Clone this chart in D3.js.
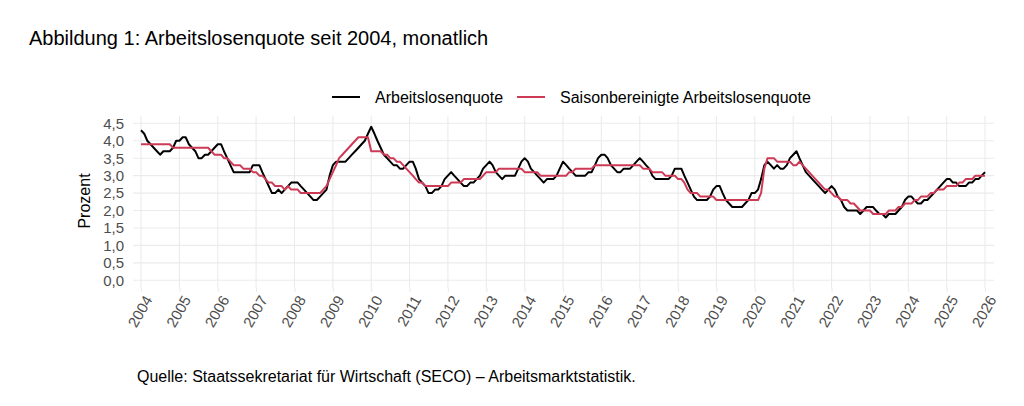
<!DOCTYPE html>
<html>
<head>
<meta charset="utf-8">
<script src="https://cdn.jsdelivr.net/npm/d3@7"></script>
<style>
  html, body { margin: 0; padding: 0; background: #fff; }
  svg { display: block; font-family: "Liberation Sans", Arial, Helvetica, sans-serif; }
</style>
</head>
<body>
<svg id="chart" width="1024" height="406"></svg>
<script>
// ---- Data (monthly, Jan 2004 .. Jan 2026) ----
const startYear = 2004;
const raw2004_2009 = [
  4.3, 4.2, 4.0, 3.9, 3.8, 3.7, 3.6, 3.7, 3.7, 3.7, 3.8, 4.0,
  4.0, 4.1, 4.1, 3.9, 3.8, 3.7, 3.5, 3.5, 3.6, 3.6, 3.7, 3.8,
  3.9, 3.9, 3.7, 3.5, 3.3, 3.1, 3.1, 3.1, 3.1, 3.1, 3.1, 3.3,
  3.3, 3.3, 3.1, 2.9, 2.7, 2.5, 2.5, 2.6, 2.5, 2.6, 2.7, 2.8,
  2.8, 2.8, 2.7, 2.6, 2.5, 2.4, 2.3, 2.3, 2.4, 2.5, 2.6, 3.0,
  3.3, 3.4, 3.4, 3.4, 3.4, 3.5, 3.6, 3.7, 3.8, 3.9, 4.0, 4.2
];
const raw2010_2016 = [
  4.4, 4.2, 4.0, 3.8, 3.6, 3.5, 3.4, 3.3, 3.3, 3.2, 3.2, 3.3,
  3.4, 3.4, 3.2, 2.9, 2.8, 2.7, 2.5, 2.5, 2.6, 2.6, 2.7, 2.9,
  3.0, 3.1, 3.0, 2.9, 2.8, 2.7, 2.7, 2.8, 2.8, 2.9, 3.0, 3.2,
  3.3, 3.4, 3.3, 3.1, 3.0, 2.9, 3.0, 3.0, 3.0, 3.0, 3.2, 3.4,
  3.5, 3.4, 3.2, 3.1, 3.0, 2.9, 2.8, 2.9, 2.9, 2.9, 3.0, 3.2,
  3.4, 3.3, 3.2, 3.1, 3.0, 3.0, 3.0, 3.0, 3.1, 3.1, 3.3, 3.5,
  3.6, 3.6, 3.5, 3.3, 3.2, 3.1, 3.1, 3.2, 3.2, 3.2, 3.3, 3.4
];
const raw2017_2026 = [
  3.5, 3.4, 3.3, 3.2, 3.0, 2.9, 2.9, 2.9, 2.9, 2.9, 3.0, 3.2,
  3.2, 3.2, 3.0, 2.8, 2.6, 2.4, 2.3, 2.3, 2.3, 2.3, 2.4, 2.6,
  2.7, 2.7, 2.5, 2.3, 2.2, 2.1, 2.1, 2.1, 2.1, 2.2, 2.3, 2.5,
  2.5, 2.6, 2.9, 3.3, 3.4, 3.3, 3.2, 3.3, 3.2, 3.2, 3.3, 3.5,
  3.6, 3.7, 3.5, 3.3, 3.1, 3.0, 2.9, 2.8, 2.7, 2.6, 2.5, 2.6,
  2.7, 2.6, 2.4, 2.3, 2.1, 2.0, 2.0, 2.0, 2.0, 1.9, 2.0, 2.1,
  2.1, 2.1, 2.0, 1.9, 1.9, 1.8, 1.9, 1.9, 1.9, 2.0, 2.1, 2.3,
  2.4, 2.4, 2.3, 2.2, 2.2, 2.3, 2.3, 2.4, 2.5, 2.6, 2.7, 2.8,
  2.9, 2.9, 2.8, 2.8, 2.7, 2.7, 2.7, 2.8, 2.8, 2.9, 2.9, 3.0,
  3.1
];
const sa2004_2009 = [
  3.9, 3.9, 3.9, 3.9, 3.9, 3.9, 3.9, 3.9, 3.9, 3.9, 3.8, 3.8,
  3.8, 3.8, 3.8, 3.8, 3.8, 3.8, 3.8, 3.8, 3.8, 3.8, 3.7, 3.6,
  3.6, 3.6, 3.5, 3.5, 3.4, 3.3, 3.3, 3.3, 3.2, 3.2, 3.2, 3.1,
  3.1, 3.0, 3.0, 2.9, 2.8, 2.8, 2.7, 2.7, 2.7, 2.6, 2.7, 2.6,
  2.6, 2.6, 2.5, 2.5, 2.5, 2.5, 2.5, 2.5, 2.5, 2.6, 2.7, 2.9,
  3.1, 3.3, 3.5, 3.6, 3.7, 3.8, 3.9, 4.0, 4.1, 4.1, 4.1, 4.1
];
const sa2010_2016 = [
  3.7, 3.7, 3.7, 3.7, 3.6, 3.6, 3.5, 3.5, 3.4, 3.4, 3.3, 3.2,
  3.1, 3.0, 2.9, 2.8, 2.8, 2.7, 2.7, 2.7, 2.7, 2.7, 2.7, 2.7,
  2.7, 2.8, 2.8, 2.8, 2.8, 2.9, 2.9, 2.9, 2.9, 2.9, 2.9, 3.0,
  3.1, 3.1, 3.1, 3.1, 3.2, 3.2, 3.2, 3.2, 3.2, 3.2, 3.2, 3.2,
  3.1, 3.1, 3.1, 3.1, 3.1, 3.0, 3.0, 3.0, 3.0, 3.0, 3.0, 3.0,
  3.0, 3.0, 3.1, 3.1, 3.2, 3.2, 3.2, 3.2, 3.2, 3.2, 3.3, 3.3,
  3.3, 3.3, 3.3, 3.3, 3.3, 3.3, 3.3, 3.3, 3.3, 3.3, 3.3, 3.3
];
const sa2017_2026 = [
  3.3, 3.2, 3.2, 3.2, 3.1, 3.1, 3.1, 3.1, 3.0, 3.0, 3.0, 3.0,
  2.9, 2.9, 2.8, 2.6, 2.5, 2.5, 2.5, 2.4, 2.4, 2.4, 2.4, 2.4,
  2.3, 2.3, 2.3, 2.3, 2.3, 2.3, 2.3, 2.3, 2.3, 2.3, 2.3, 2.3,
  2.3, 2.3, 2.5, 3.2, 3.5, 3.5, 3.5, 3.4, 3.4, 3.4, 3.4, 3.4,
  3.3, 3.3, 3.4, 3.3, 3.2, 3.1, 3.0, 2.9, 2.8, 2.7, 2.6, 2.6,
  2.5, 2.4, 2.4, 2.3, 2.3, 2.3, 2.2, 2.2, 2.1, 2.0, 2.0, 2.0,
  2.0, 1.9, 1.9, 1.9, 1.9, 1.9, 2.0, 2.0, 2.0, 2.1, 2.1, 2.2,
  2.2, 2.2, 2.3, 2.3, 2.4, 2.4, 2.4, 2.5, 2.5, 2.6, 2.6, 2.6,
  2.7, 2.7, 2.7, 2.7, 2.8, 2.8, 2.9, 2.9, 2.9, 3.0, 3.0, 3.0,
  3.0
];
const rawValues = raw2004_2009.concat(raw2010_2016, raw2017_2026);
const saValues = sa2004_2009.concat(sa2010_2016, sa2017_2026);
const yearTicks = d3.range(2004, 2027);
const yTicks = [0, 0.5, 1, 1.5, 2, 2.5, 3, 3.5, 4, 4.5];
const seriesNames = ["Arbeitslosenquote", "Saisonbereinigte Arbeitslosenquote"];
const seriesColors = ["#000000", "#cd3a55"];
const titleText = "Abbildung 1: Arbeitslosenquote seit 2004, monatlich";
const captionText = "Quelle: Staatssekretariat für Wirtschaft (SECO) – Arbeitsmarktstatistik.";
const yLabel = "Prozent";

// ---- Build ----
const dates = rawValues.map((_, i) => new Date(startYear, i, 1));
const rawData = rawValues.map((v, i) => ({ date: dates[i], value: v }));
const saData = saValues.map((v, i) => ({ date: dates[i], value: v }));

const svg = d3.select("#chart");
const panel = { left: 133, right: 994, top: 116, bottom: 288 };
const FONT = '"Liberation Sans", Arial, sans-serif';

const x = d3.scaleTime()
  .domain([new Date(2004, 0, 1), new Date(2026, 0, 1)])
  .range([141, 985]);
const y = d3.scaleLinear().domain([0, 4.5]).range([280.3, 123.3]);

const fmt = v => d3.format(".1f")(v).replace(".", ",");

// grid
const grid = svg.append("g");
grid.selectAll("line.h").data(yTicks).join("line")
  .attr("x1", panel.left).attr("x2", panel.right)
  .attr("y1", d => y(d)).attr("y2", d => y(d))
  .attr("stroke", "#ebebeb").attr("stroke-width", 1.1);
grid.selectAll("line.v").data(yearTicks).join("line")
  .attr("x1", d => x(new Date(d, 0, 1))).attr("x2", d => x(new Date(d, 0, 1)))
  .attr("y1", panel.top).attr("y2", panel.bottom)
  .attr("stroke", "#ebebeb").attr("stroke-width", 1.1);

// y axis
const yAxis = svg.append("g")
  .attr("transform", `translate(${panel.left - 4},0)`)
  .call(d3.axisLeft(y).tickValues(yTicks).tickFormat(fmt).tickSize(0).tickPadding(5));
yAxis.select(".domain").remove();
yAxis.selectAll("text").attr("fill", "#4d4d4d").style("font-size", "15px")
  .style("font-family", FONT);

// x axis
const xAxis = svg.append("g")
  .attr("transform", `translate(0,${panel.bottom})`)
  .call(d3.axisBottom(x).tickValues(yearTicks.map(d => new Date(d, 0, 1)))
    .tickFormat(d3.timeFormat("%Y")).tickSize(4).tickPadding(2));
xAxis.select(".domain").remove();
xAxis.selectAll(".tick line").attr("stroke", "#ebebeb").attr("stroke-width", 1.1);
xAxis.selectAll("text")
  .attr("fill", "#4d4d4d").style("font-size", "15px")
  .style("font-family", FONT)
  .attr("text-anchor", "end")
  .attr("dy", "0.35em")
  .attr("transform", "translate(7,9) rotate(-60)")
  .attr("y", 0).attr("x", 0);

// lines
const line = d3.line().x(d => x(d.date)).y(d => y(d.value));
svg.append("path").datum(rawData)
  .attr("fill", "none").attr("stroke", seriesColors[0])
  .attr("stroke-width", 2).attr("stroke-linejoin", "round")
  .attr("d", line);
svg.append("path").datum(saData)
  .attr("fill", "none").attr("stroke", seriesColors[1])
  .attr("stroke-width", 2).attr("stroke-linejoin", "round")
  .attr("d", line);

// title
svg.append("text").attr("x", 29).attr("y", 45)
  .style("font-size", "20px").attr("fill", "#000").text(titleText);

// legend
const legendItems = [
  { x: 332, tx: 375, name: seriesNames[0], color: seriesColors[0] },
  { x: 517, tx: 560, name: seriesNames[1], color: seriesColors[1] }
];
const lg = svg.append("g");
legendItems.forEach(it => {
  lg.append("line").attr("x1", it.x).attr("x2", it.x + 28)
    .attr("y1", 97).attr("y2", 97)
    .attr("stroke", it.color).attr("stroke-width", 2);
  lg.append("text").attr("x", it.tx).attr("y", 103)
    .style("font-size", "16px").attr("fill", "#000").text(it.name);
});

// y label
svg.append("text")
  .attr("transform", "translate(90,201) rotate(-90)")
  .attr("text-anchor", "middle")
  .style("font-size", "16px").attr("fill", "#000").text(yLabel);

// caption
svg.append("text").attr("x", 137).attr("y", 382)
  .style("font-size", "16px").attr("fill", "#000").text(captionText);
</script>
</body>
</html>
